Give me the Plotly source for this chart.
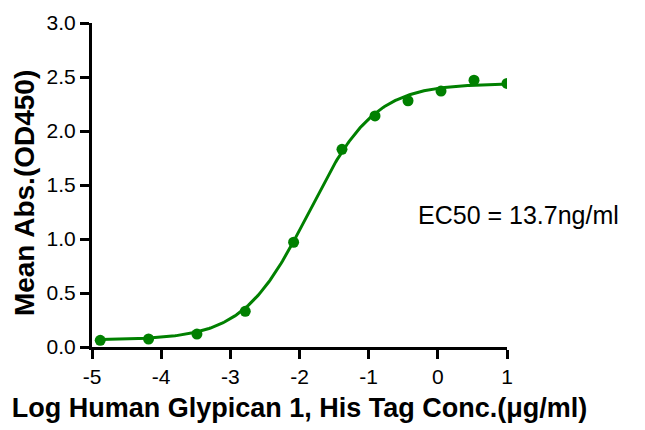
import numpy as np
import plotly.graph_objects as go

# Data
log_conc = [-4.881, -4.182, -3.483, -2.784, -2.085, -1.386, -0.908, -0.431, 0.046, 0.523, 1.0]
mean_abs = [0.062, 0.074, 0.12, 0.33, 0.97, 1.83, 2.14, 2.28, 2.37, 2.47, 2.44]

# 4PL fit parameters (EC50 = 13.7 ng/ml = 0.0137 ug/ml)
fit_bottom = 0.065
fit_top = 2.44
fit_log_ec50 = np.log10(0.0137)
fit_hill = 0.92

x_ticks = [-5, -4, -3, -2, -1, 0, 1]
y_ticks = [0.0, 0.5, 1.0, 1.5, 2.0, 2.5, 3.0]

x_title = "Log Human Glypican 1, His Tag Conc.(μg/ml)"
y_title = "Mean Abs.(OD450)"
ec50_label = "EC50 = 13.7ng/ml"

green = "rgb(0,128,0)"

xc = np.linspace(min(log_conc), max(log_conc), 300)
yc = fit_bottom + (fit_top - fit_bottom) / (1 + 10 ** ((fit_log_ec50 - xc) * fit_hill))

fig = go.Figure()
fig.add_trace(go.Scatter(x=xc, y=yc, mode="lines", line=dict(color=green, width=3),
                         hoverinfo="skip", showlegend=False))
fig.add_trace(go.Scatter(x=log_conc, y=mean_abs, mode="markers",
                         marker=dict(color=green, size=11), showlegend=False))

font_family = "Liberation Sans, Arial, sans-serif"

fig.update_layout(
    width=645, height=430,
    margin=dict(l=92, r=138, t=23, b=83),
    plot_bgcolor="white", paper_bgcolor="white",
    font=dict(family=font_family, color="black"),
    xaxis=dict(range=[-5, 1], tickvals=x_ticks, ticktext=[str(v) for v in x_ticks],
               showline=True, linecolor="black", linewidth=3, ticks="outside",
               ticklen=9, tickwidth=3, tickcolor="black", showgrid=False, zeroline=False,
               automargin=False,
               tickfont=dict(size=21, family=font_family),
               title=dict(text="<b>" + x_title + "</b>",
                          font=dict(size=27, family=font_family), standoff=11)),
    yaxis=dict(range=[0, 3], tickvals=y_ticks, ticktext=[f"{v:.1f}" for v in y_ticks],
               showline=True, linecolor="black", linewidth=3, ticks="outside",
               ticklen=9, tickwidth=3, tickcolor="black", showgrid=False, zeroline=False,
               automargin=False,
               tickfont=dict(size=21, family=font_family)),
    annotations=[
        dict(x=-0.31, y=1.22, xref="x", yref="y", text=ec50_label,
             showarrow=False, xanchor="left", yanchor="middle",
             font=dict(size=25, family=font_family, color="black")),
        dict(x=0, y=0.475, xref="paper", yref="paper", text="<b>" + y_title + "</b>",
             textangle=-90, showarrow=False, xanchor="center", yanchor="middle",
             xshift=-68, font=dict(size=28, family=font_family, color="black")),
    ],
)

fig.write_html("out.html", config={"displayModeBar": False},
               post_script="document.body.style.margin='0';document.body.style.overflow='hidden';")
